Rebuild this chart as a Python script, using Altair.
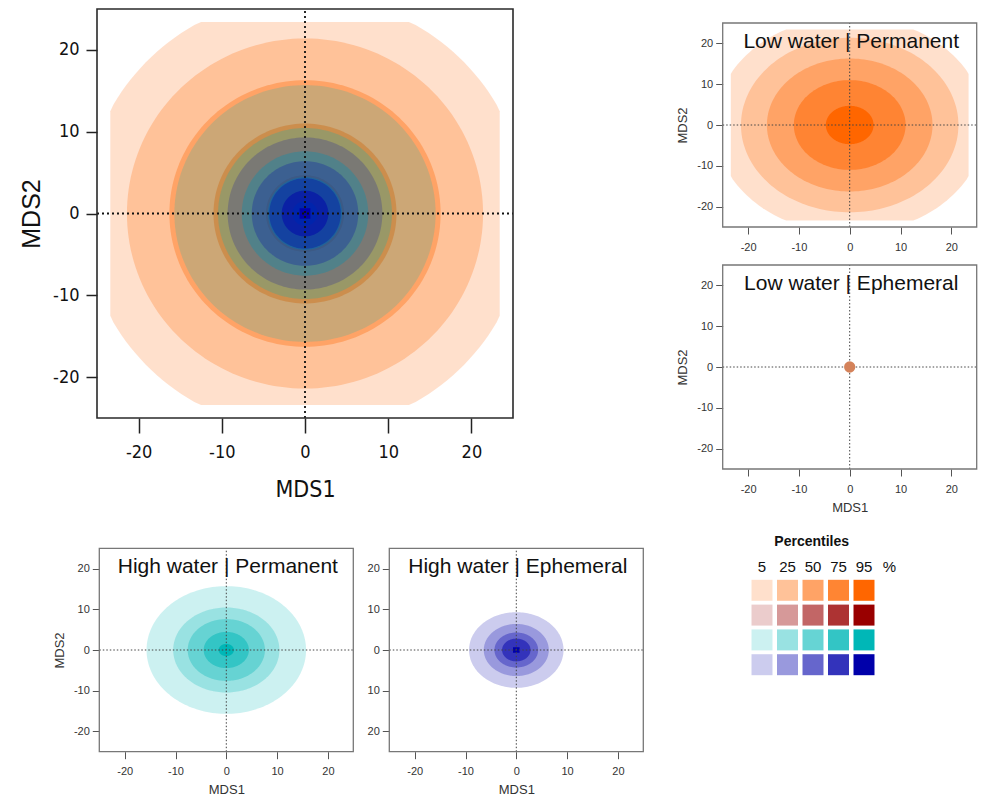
import math
import altair as alt
import pandas as pd

W, H = 996, 800

# ---------------- data ----------------
percentiles = ["5", "25", "50", "75", "95"]
band_alpha = [0.2, 0.4, 0.6, 0.8, 1.0]          # opacity of each percentile band
groups = ["Low water | Permanent", "Low water | Ephemeral",
          "High water | Permanent", "High water | Ephemeral"]
group_colors = ["#FF6600", "#990000", "#00B7B7", "#0000AA"]

# radius (MDS units) of the 5/25/50/75/95 % percentile regions
radius_low_perm = [26.6, 21.4, 16.3, 11.0, 4.7]
radius_high_perm = [15.7, 10.45, 7.6, 4.45, 1.5]
radius_high_eph = [9.3, 6.4, 4.3, 2.8, 0.95]
# half-width of the estimation grid that cuts the regions
clip_low_perm = [23.4, 30, 30, 30, 30]
clip_high_perm = [30, 30, 30, 30, 30]
clip_high_eph = [30, 30, 30, 30, 0.65]

# Low water | Ephemeral: a single site
low_eph_mds1 = [0.0]
low_eph_mds2 = [0.0]
low_eph_colour = "#D4825A"

axis_ticks = [-20, -10, 0, 10, 20]
mds_domain = [-25, 25]

# angles (degrees) at which each region outline is traced
outline_angles = list(range(0, 361, 2))

# ---------------- tables ----------------
region_tables = {}
for gi, radii, clips in [(0, radius_low_perm, clip_low_perm),
                         (2, radius_high_perm, clip_high_perm),
                         (3, radius_high_eph, clip_high_eph)]:
    prev = 0.0
    lst = []
    for k, (p, r, c, a) in enumerate(zip(percentiles, radii, clips, band_alpha)):
        recs = []
        for t in outline_angles:
            th = math.radians(t)
            xv = max(-c, min(c, r * math.cos(th)))
            yv = max(-c, min(c, r * math.sin(th)))
            recs.append({"t": t, "mds1": xv, "mds2": yv})
        lst.append((pd.DataFrame(recs), (a - prev) / (1 - prev)))
        prev = a
    region_tables[gi] = lst

points = pd.DataFrame({"mds1": low_eph_mds1, "mds2": low_eph_mds2})
dummy = pd.DataFrame({"d": [0]})

leg_rows = []
for gi, g in enumerate(groups):
    for p, a in zip(percentiles, band_alpha):
        leg_rows.append({"group": g, "pct": p, "colour": group_colors[gi], "alpha": a})
legend_df = pd.DataFrame(leg_rows)
header_df = pd.DataFrame({"pct": percentiles + ["%"]})

NARROW = "DejaVu Sans Condensed, Liberation Sans"
REG = "Liberation Sans"
HYPHEN = "'' + datum.value"


def scales(box):
    x0, x1, ytop, ybot = box
    xs = alt.Scale(domain=mds_domain, range=[x0, x1], nice=False, zero=False)
    ys = alt.Scale(domain=mds_domain, range=[ybot, ytop], nice=False, zero=False)
    return xs, ys


def region_layers(xs, ys, gi):
    out = []
    for df, op in region_tables[gi]:
        out.append(alt.Chart(df).mark_line(fill=group_colors[gi], stroke=group_colors[gi],
                                           strokeWidth=0, opacity=float(op))
                   .encode(x=alt.X("mds1:Q", scale=xs, axis=None),
                           y=alt.Y("mds2:Q", scale=ys, axis=None),
                           order=alt.Order("t:Q")))
    return out


def cross_layers(xs, ys, big):
    col = "#111111" if big else "#444444"
    sw = 1.8 if big else 1.0
    dash = [2, 3] if big else [1.5, 2]
    v = alt.Chart(dummy).mark_rule(color=col, strokeWidth=sw, strokeDash=dash).encode(
        x=alt.XDatum(0, type="quantitative", scale=xs, axis=None),
        y=alt.YDatum(mds_domain[0], type="quantitative", scale=ys, axis=None),
        y2=alt.Y2Datum(mds_domain[1]))
    h = alt.Chart(dummy).mark_rule(color=col, strokeWidth=sw, strokeDash=dash).encode(
        y=alt.YDatum(0, type="quantitative", scale=ys, axis=None),
        x=alt.XDatum(mds_domain[0], type="quantitative", scale=xs, axis=None),
        x2=alt.X2Datum(mds_domain[1]))
    return [v, h]


def frame_layer(xs, ys, box, big, xtitle, ytitle, ylabel_expr=HYPHEN):
    x0, x1, ytop, ybot = box
    if big:
        ax = alt.Axis(orient="bottom", offset=ybot - H, values=axis_ticks, domain=False,
                      grid=False, tickSize=15, tickWidth=1.5, tickColor="#222222",
                      labelFont=NARROW, labelFontSize=18, labelColor="#111111",
                      labelPadding=10, labelFlush=False, labelOverlap=False,
                      labelExpr=HYPHEN, title=xtitle, titleFont=NARROW,
                      titleFontSize=23, titleFontWeight="normal",
                      titleColor="#111111", titlePadding=17)
        ay = alt.Axis(orient="left", offset=-x0, values=axis_ticks, domain=False,
                      grid=False, tickSize=11, tickWidth=1.5, tickColor="#222222",
                      labelFont=NARROW, labelFontSize=18, labelColor="#111111",
                      labelPadding=7, labelFlush=False, labelOverlap=False,
                      labelExpr=HYPHEN, title=ytitle, titleFont=REG,
                      titleFontSize=25, titleFontWeight="normal",
                      titleColor="#111111", titlePadding=8)
        stroke, sw = "#2a2a2a", 1.6
    else:
        ax = alt.Axis(orient="bottom", offset=ybot - H, values=axis_ticks, domain=False,
                      grid=False, tickSize=7, tickWidth=1, tickColor="#555555",
                      labelFont=REG, labelFontSize=11, labelColor="#333333",
                      labelPadding=7, labelFlush=False, labelOverlap=False,
                      labelExpr=HYPHEN, title=xtitle, titleFont=REG,
                      titleFontSize=13, titleFontWeight="normal",
                      titleColor="#333333", titlePadding=7)
        ay = alt.Axis(orient="left", offset=-x0, values=axis_ticks, domain=False,
                      grid=False, tickSize=7, tickWidth=1, tickColor="#555555",
                      labelFont=REG, labelFontSize=11, labelColor="#333333",
                      labelPadding=3, labelFlush=False, labelOverlap=False,
                      labelExpr=ylabel_expr, title=ytitle, titleFont=REG,
                      titleFontSize=13, titleFontWeight="normal",
                      titleColor="#333333", titlePadding=7)
        stroke, sw = "#777777", 1.3
    return alt.Chart(dummy).mark_rect(filled=False, stroke=stroke, strokeWidth=sw).encode(
        x=alt.XDatum(mds_domain[0], type="quantitative", scale=xs, axis=ax),
        x2=alt.X2Datum(mds_domain[1]),
        y=alt.YDatum(mds_domain[0], type="quantitative", scale=ys, axis=ay),
        y2=alt.Y2Datum(mds_domain[1]))


def title_layer(xs, ys, gi):
    return alt.Chart(dummy).mark_text(text=groups[gi], font=REG, fontSize=21,
                                      color="#111111", align="center",
                                      baseline="middle").encode(
        x=alt.XDatum(0.3, type="quantitative", scale=xs, axis=None),
        y=alt.YDatum(20.3, type="quantitative", scale=ys, axis=None))


layers = []

# main panel: all groups overlaid
box = (97, 513, 9, 418)
xs, ys = scales(box)
for gi in (0, 2, 3):
    layers += region_layers(xs, ys, gi)
layers += cross_layers(xs, ys, True)
layers.append(frame_layer(xs, ys, box, True, "MDS1", "MDS2"))

# Low water | Permanent
box = (722.7, 976.7, 23, 227)
xs, ys = scales(box)
layers += region_layers(xs, ys, 0)
layers += cross_layers(xs, ys, False)
layers.append(frame_layer(xs, ys, box, False, "", "MDS2"))
layers.append(title_layer(xs, ys, 0))

# Low water | Ephemeral
box = (722.7, 976.7, 265, 469)
xs, ys = scales(box)
layers += cross_layers(xs, ys, False)
layers.append(alt.Chart(points).mark_circle(size=127, color=low_eph_colour, opacity=1).encode(
    x=alt.X("mds1:Q", scale=xs, axis=None), y=alt.Y("mds2:Q", scale=ys, axis=None)))
layers.append(frame_layer(xs, ys, box, False, "MDS1", "MDS2"))
layers.append(title_layer(xs, ys, 1))

# High water | Permanent
box = (99.3, 353.3, 548.3, 751.7)
xs, ys = scales(box)
layers += region_layers(xs, ys, 2)
layers += cross_layers(xs, ys, False)
layers.append(frame_layer(xs, ys, box, False, "MDS1", "MDS2"))
layers.append(title_layer(xs, ys, 2))

# High water | Ephemeral
box = (389.3, 643.3, 548.3, 751.7)
xs, ys = scales(box)
layers += region_layers(xs, ys, 3)
layers += cross_layers(xs, ys, False)
layers.append(frame_layer(xs, ys, box, False, "MDS1", "", ylabel_expr="'' + abs(datum.value)"))
layers.append(title_layer(xs, ys, 3))

# legend of percentiles
leg_x = alt.Scale(type="point", domain=percentiles + ["%"], range=[762, 889.5], padding=0)
leg_y = alt.Scale(type="point", domain=groups, range=[590.3, 664.7], padding=0)
layers.append(alt.Chart(legend_df).mark_square(size=441, filled=True, strokeWidth=0).encode(
    x=alt.X("pct:N", scale=leg_x, axis=None),
    y=alt.Y("group:N", scale=leg_y, axis=None),
    color=alt.Color("colour:N", scale=None),
    opacity=alt.Opacity("alpha:Q", scale=None)))
layers.append(alt.Chart(header_df).mark_text(font=REG, fontSize=15, color="#111111",
                                              baseline="middle").encode(
    x=alt.X("pct:N", scale=leg_x, axis=None),
    y=alt.value(567),
    text="pct:N"))
layers.append(alt.Chart(dummy).mark_text(text="Percentiles", font=REG, fontSize=14,
                                         fontWeight="bold", color="#111111",
                                         baseline="middle").encode(
    x=alt.value(811.7), y=alt.value(542)))

chart = (alt.layer(*layers)
         .resolve_scale(x="independent", y="independent")
         .resolve_axis(x="independent", y="independent")
         .properties(width=W, height=H, padding=0,
                     autosize=alt.AutoSizeParams(type="none"))
         .configure(font=REG)
         .configure_view(stroke=None))

chart.save("out.html", embed_options={"renderer": "svg", "actions": False})
